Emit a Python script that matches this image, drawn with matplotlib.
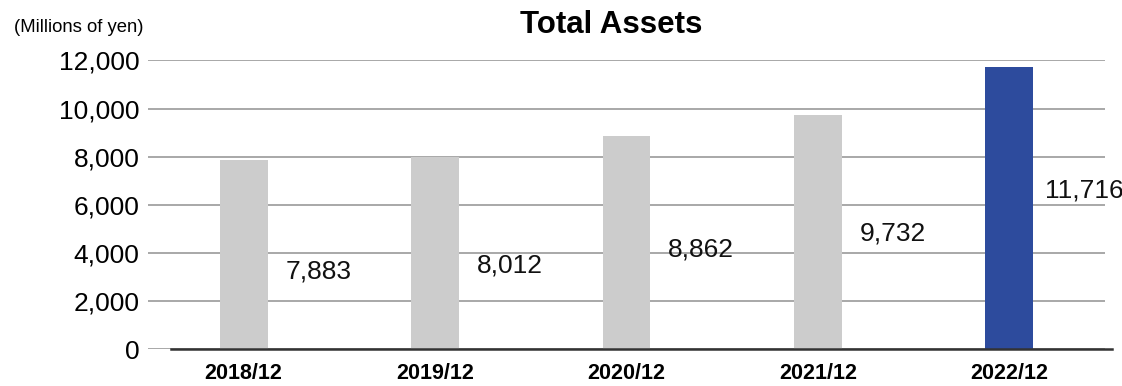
import numpy as np
import matplotlib.pyplot as plt

plt.rcParams['font.family'] = ['Liberation Sans', 'DejaVu Sans']

# Total assets by fiscal year-end (millions of yen)
periods = ['2018/12', '2019/12', '2020/12', '2021/12', '2022/12']
total_assets = [7883, 8012, 8862, 9732, 11716]
yticks = [0, 2000, 4000, 6000, 8000, 10000, 12000]

# where each value label sits vertically (data units)
label_heights = [3220, 3470, 4170, 4830, 6620]

fig = plt.figure(figsize=(11.22, 3.86), dpi=100)
ax = fig.add_axes([0.1319, 0.0946, 0.8529, 0.7487])

x = np.arange(len(periods))
colors = ['#cccccc'] * (len(periods) - 1) + ['#2d4b9d']
ax.bar(x, total_assets, width=0.25, color=colors, zorder=2)

for xi, v, ly in zip(x, total_assets, label_heights):
    ax.text(xi + 0.39, ly, f'{v:,}', ha='center', va='center',
            fontsize=19, color='#111111', zorder=3)

ax.set_xlim(-0.5, 4.5)
ax.set_ylim(0, 12000)
ax.set_yticks(yticks)
ax.set_yticklabels([f'{t:,}' for t in yticks], fontsize=19)
ax.set_xticks(x)
ax.set_xticklabels(periods, fontsize=15.5, fontweight='bold')
ax.tick_params(axis='y', length=0, pad=6)
ax.tick_params(axis='x', length=0, pad=10)

ax.grid(axis='y', color='#999999', linewidth=1.2, zorder=1)
for s in ax.spines.values():
    s.set_visible(False)

# dark baseline, offset slightly from the grid span
ax.plot([0.024, 1.007], [0, 0], transform=ax.get_yaxis_transform(),
        color='#333333', linewidth=1.8, clip_on=False, zorder=4)

fig.text(0.545, 0.9145, 'Total Assets', ha='center', va='baseline',
         fontsize=22.5, fontweight='bold')
fig.text(0.0125, 0.917, '(Millions of yen)', ha='left', va='baseline',
         fontsize=13.3)

fig.savefig('out.png', dpi=100)
